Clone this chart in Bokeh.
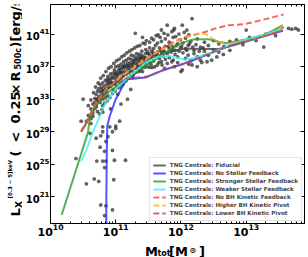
import math
from bokeh.plotting import figure
from bokeh.layouts import row, column
from bokeh.models import Range1d, FixedTicker, LogAxis, Label, CustomJSTickFormatter
from bokeh.embed import file_html
from bokeh.resources import INLINE

# ---------------- data (log10 values) ----------------
x_ticks = [1e10, 1e11, 1e12, 1e13]
y_ticks = [1e21, 1e25, 1e29, 1e33, 1e37, 1e41]

fid_logm = [10.50, 10.606, 10.727, 10.879, 11.076, 11.333, 11.561, 11.818, 12.061, 12.318, 12.576, 12.773, 12.970, 13.227, 13.424, 13.576]
fid_logl = [29.36, 30.82, 32.64, 34.21, 35.55, 37.0, 38.09, 38.82, 39.24, 39.18, 39.18, 39.55, 40.03, 40.76, 41.24, 41.85]

nostel_logm = [10.853, 10.856, 10.864, 10.871, 10.909, 11.0, 11.106, 11.152, 11.455, 11.712, 12.061, 12.318, 12.576, 12.818, 13.076, 13.333, 13.561]
nostel_logl = [13.6, 20.88, 26.94, 29.73, 30.94, 33.0, 34.58, 35.42, 35.67, 36.52, 37.42, 38.21, 39.06, 39.75, 40.27, 40.88, 41.4]

strong_logm = [10.171, 10.576, 10.60, 10.70, 10.85, 11.08, 11.36, 11.61, 11.82, 12.02, 12.21, 12.42, 12.58, 12.70, 12.88, 13.08, 13.27, 13.42, 13.56]
strong_logl = [18.78, 28.96, 30.58, 32.19, 33.61, 35.06, 36.64, 37.85, 39.06, 39.95, 40.36, 40.36, 40.07, 39.87, 40.15, 40.48, 40.88, 41.48, 42.09]

weak_logm = [10.470, 10.576, 10.652, 10.758, 10.848, 11.0, 11.212, 11.455, 11.636, 11.818, 12.061, 12.273, 12.576, 12.818, 13.076, 13.333, 13.561]
weak_logl = [25.36, 27.30, 29.0, 30.94, 32.64, 34.21, 35.79, 37.48, 38.21, 38.33, 37.85, 38.21, 39.06, 39.91, 40.48, 41.08, 41.69]

nobh_logm = [10.470, 10.576, 10.697, 10.848, 11.061, 11.303, 11.561, 11.818, 12.061, 12.318, 12.515, 12.727, 12.970, 13.227, 13.576]
nobh_logl = [29.0, 30.58, 32.52, 34.09, 35.67, 37.0, 38.45, 39.79, 40.64, 41.12, 41.67, 42.09, 42.21, 42.70, 43.42]

hipiv_logm = [10.470, 10.576, 10.697, 10.848, 11.061, 11.303, 11.561, 11.818, 12.061, 12.273, 12.379, 12.470, 12.576, 12.697, 12.879, 13.076, 13.273, 13.455, 13.576]
hipiv_logl = [29.0, 30.58, 32.52, 34.09, 35.67, 37.0, 38.45, 39.55, 40.64, 41.06, 41.0, 40.52, 40.03, 39.79, 40.03, 40.27, 40.76, 41.36, 42.09]

lopiv_logm = [10.470, 10.576, 10.697, 10.848, 10.985, 11.182, 11.485, 11.712, 12.061, 12.318, 12.576, 12.818, 13.076, 13.333, 13.561]
lopiv_logl = [29.0, 30.58, 32.52, 33.97, 35.06, 35.55, 35.79, 36.52, 37.36, 38.21, 39.06, 39.73, 40.27, 40.88, 41.48]

# individual haloes (logM, logL)
haloes = [
    (10.83, 18.7), (10.85, 19.9), (10.77, 20.0), (10.95, 19.4), (10.55, 22.6), (10.67, 23.2), (10.74, 22.9),
    (10.97, 23.1), (10.39, 25.7), (10.80, 25.4), (10.83, 24.6), (10.85, 25.4), (10.98, 25.5), (11.15, 25.5),
    (10.71, 25.4), (10.83, 26.6), (10.85, 27.8), (10.95, 26.7), (10.76, 27.1), (10.77, 28.5), (10.61, 28.8),
    (10.70, 28.2), (10.88, 28.4), (10.80, 29.6), (10.91, 29.6), (11.00, 29.7), (11.06, 30.3), (10.62, 30.0),
    (10.55, 30.3), (10.95, 29.0), (11.00, 29.4), (10.80, 29.0), (10.50, 33.0), (10.65, 30.9), (10.80, 31.4),
    (10.70, 32.2), (10.47, 30.3),
    (10.58, 31.0), (10.58, 32.2), (10.62, 31.8), (10.62, 30.6), (10.62, 32.9), (10.65, 32.4), (10.65, 31.3),
    (10.68, 33.1), (10.68, 31.9), (10.68, 32.6), (10.70, 33.6), (10.70, 32.1), (10.72, 32.9), (10.72, 34.0),
    (10.72, 31.5), (10.74, 33.3), (10.74, 34.3), (10.76, 33.9), (10.76, 32.6), (10.76, 34.8), (10.78, 33.5),
    (10.78, 34.4), (10.80, 34.1), (10.80, 33.0), (10.80, 35.0), (10.80, 32.2), (10.82, 34.6), (10.82, 33.7),
    (10.84, 34.2), (10.84, 35.3), (10.84, 33.2), (10.86, 34.8), (10.86, 33.9), (10.88, 35.1), (10.88, 34.4),
    (10.88, 35.8), (10.88, 33.4), (10.90, 34.9), (10.90, 35.5), (10.92, 35.3), (10.92, 34.6), (10.92, 36.1),
    (10.94, 35.7), (10.94, 34.9), (10.96, 35.0), (10.96, 36.2), (10.96, 35.6), (10.96, 34.2), (10.98, 35.9),
    (10.98, 36.6), (11.00, 35.4), (11.00, 36.3), (11.00, 34.8), (11.00, 37.0), (11.02, 36.0), (11.02, 35.7),
    (11.04, 36.5), (11.04, 35.2), (11.04, 37.1), (11.06, 36.1), (11.06, 36.8), (11.08, 35.6), (11.08, 36.6),
    (11.08, 37.3), (11.08, 35.0), (11.10, 36.3), (11.10, 37.0), (11.12, 36.8), (11.12, 35.9), (11.12, 37.6),
    (11.14, 36.4), (11.14, 37.2), (11.16, 37.0), (11.16, 36.1), (11.16, 37.8), (11.16, 35.4), (11.18, 36.7),
    (11.18, 37.4), (11.20, 37.1), (11.20, 36.3), (11.20, 38.0), (11.22, 37.5), (11.22, 36.8), (11.24, 36.5),
    (11.24, 37.9), (11.24, 37.2), (11.24, 38.4), (11.26, 37.3), (11.26, 36.9), (11.28, 37.7), (11.28, 36.2),
    (11.28, 38.3), (11.30, 37.4), (11.30, 38.0), (11.32, 36.8), (11.32, 37.9), (11.32, 38.6), (11.34, 37.6),
    (11.34, 38.2), (11.36, 37.1), (11.36, 38.5), (11.36, 37.9), (11.36, 36.4), (11.38, 38.1), (11.38, 37.5),
    (11.40, 38.4), (11.40, 37.0), (11.40, 38.9), (11.43, 37.8), (11.43, 38.2), (11.46, 38.6), (11.46, 37.3),
    (11.46, 39.1), (11.49, 38.0), (11.49, 38.8), (11.52, 37.5), (11.52, 38.4), (11.52, 39.3), (11.52, 36.9),
    (11.55, 38.9), (11.55, 38.1), (11.58, 37.7), (11.58, 39.2), (11.58, 38.5), (11.61, 38.3), (11.61, 39.6),
    (11.64, 37.2), (11.64, 38.8), (11.64, 39.9), (11.67, 38.0), (11.67, 39.3), (11.70, 37.6), (11.70, 38.7),
    (11.70, 40.1), (11.73, 39.0), (11.73, 38.3), (11.76, 37.9), (11.76, 39.5), (11.76, 40.4), (11.79, 38.6),
    (11.79, 37.4), (11.82, 39.2), (11.82, 38.1), (11.82, 40.0), (11.85, 38.8), (11.85, 39.7), (11.88, 37.8),
    (11.88, 39.4), (11.88, 40.6), (11.91, 38.5), (11.91, 39.0), (11.95, 39.8), (11.95, 38.2), (11.95, 37.5),
    (11.99, 39.3), (11.99, 40.3), (12.03, 38.7), (12.03, 39.9), (12.07, 38.0), (12.07, 40.5), (12.07, 39.2),
    (12.11, 39.6), (12.11, 38.4), (12.15, 37.7), (12.15, 40.1), (12.20, 39.0), (12.20, 38.6), (12.25, 40.4),
    (12.25, 38.2), (12.30, 39.4), (12.30, 37.8), (12.36, 38.9), (12.36, 40.0), (12.42, 39.6), (12.42, 38.4),
    (12.50, 40.2), (12.50, 39.1), (12.58, 38.8), (12.58, 39.8), (12.66, 39.5), (12.75, 40.1), (12.75, 39.0),
    (12.85, 40.3), (12.95, 39.7), (13.05, 40.6), (13.15, 40.2), (13.30, 41.0), (13.45, 40.8), (13.70, 41.6),
    (13.80, 41.5),
    (11.62, 40.8), (11.68, 40.6), (11.74, 41.1), (11.80, 40.9), (11.86, 41.3), (11.92, 40.7), (11.97, 41.0),
    (12.05, 41.2), (11.70, 41.5), (11.58, 40.3), (11.52, 40.0), (11.45, 39.8), (11.90, 41.7), (12.12, 40.9),
    (11.75, 36.8), (11.90, 37.0), (12.00, 36.4), (12.12, 37.3), (12.25, 37.0), (12.40, 37.6), (12.55, 38.2),
    (12.65, 38.5),
    (11.79, 42.1), (12.02, 42.1), (12.17, 42.9), (11.89, 41.5), (12.09, 41.5), (11.30, 41.1), (11.41, 40.6),
    (13.27, 39.4), (13.00, 41.5), (13.65, 41.7), (13.76, 41.7),
    (12.32, 37.5), (12.17, 37.2), (12.02, 36.6), (12.47, 37.8), (11.86, 37.6), (11.71, 37.2), (11.56, 36.9),
    (11.41, 36.4), (11.26, 35.7), (11.11, 34.8), (11.23, 34.2), (11.03, 33.6), (11.18, 33.0), (11.08, 32.4),
    (10.92, 31.8),
    (10.66, 33.8), (10.69, 34.5), (10.73, 35.0), (10.77, 35.6), (10.81, 35.9), (10.85, 36.4), (10.89, 36.8),
    (10.93, 37.0), (10.97, 37.4), (11.01, 37.7), (11.05, 37.9), (11.09, 38.2), (11.13, 38.4), (11.17, 38.7),
    (11.21, 38.9), (11.25, 39.1), (11.29, 39.3), (11.33, 39.5), (11.37, 39.6), (11.42, 39.9), (11.47, 40.2),
    (11.55, 40.5), (11.65, 40.9),
    (10.75, 31.2), (10.79, 31.7), (10.83, 32.5), (10.87, 32.8), (10.91, 33.2), (10.95, 33.7), (10.99, 34.0),
    (11.03, 34.4), (11.07, 34.5), (11.11, 35.0), (11.15, 35.2), (11.19, 35.6), (11.23, 35.9), (11.27, 36.0),
    (11.31, 36.3), (11.35, 36.6), (11.39, 36.7), (11.44, 36.9), (11.48, 37.0), (11.54, 37.3), (11.60, 37.0),
    (11.66, 37.5),
    (10.71, 33.0), (10.79, 34.0), (10.87, 35.4), (10.93, 35.0), (11.01, 36.1), (11.07, 36.3), (11.13, 37.0),
    (11.19, 37.1), (11.27, 37.6), (11.33, 37.2), (11.39, 38.0), (11.45, 38.1), (11.50, 38.6), (11.57, 38.7),
    (11.63, 38.5), (11.69, 39.0), (11.75, 38.8), (11.81, 39.5), (11.87, 39.1), (11.93, 39.6), (11.97, 38.9),
    (12.01, 39.5), (12.09, 39.0), (12.13, 39.8), (12.18, 39.4), (12.23, 39.7), (12.28, 38.9), (12.34, 39.3),
]

series = [
    ("TNG Centrals: Fiducial", fid_logm, fid_logl, "#444444", None),
    ("TNG Centrals: No Stellar Feedback", nostel_logm, nostel_logl, "#2b2bff", None),
    ("TNG Centrals: Stronger Stellar Feedback", strong_logm, strong_logl, "#2f9a2f", None),
    ("TNG Centrals: Weaker Stellar Feedback", weak_logm, weak_logl, "#3ff2f2", None),
    ("TNG Centrals: No BH Kinetic Feedback", nobh_logm, nobh_logl, "#ff3b3b", "6 3"),
    ("TNG Centrals: Higher BH Kinetic Pivot", hipiv_logm, hipiv_logl, "#ffae1a", "6 3"),
    ("TNG Centrals: Lower BH Kinetic Pivot", lopiv_logm, lopiv_logl, "#b85050", "6 3"),
]

# ---------------- main figure ----------------
YW = 22      # width of the strip holding the y title
MW = 286     # width of main figure
MH = 238     # height of main figure
XH = 19      # height of the strip holding the x title

p = figure(width=MW, height=MH, x_axis_type="log", y_axis_type="log",
           x_range=Range1d(1e10, 10 ** 13.894), y_range=Range1d(10 ** 17.727, 10 ** 44.636),
           output_backend="svg", toolbar_location=None,
           min_border_left=25, min_border_right=4, min_border_top=4, min_border_bottom=12)
p.grid.visible = False
p.outline_line_color = "black"
p.background_fill_color = "white"

x_minor = [m * 10 ** e for e in range(10, 14) for m in range(2, 10)]
xt = FixedTicker(ticks=x_ticks, minor_ticks=x_minor)
yt = FixedTicker(ticks=y_ticks)

for ax in p.xaxis:
    ax.ticker = xt
    ax.major_label_text_font_size = "11px"
    ax.major_label_standoff = 0
for ax in p.yaxis:
    ax.ticker = yt
    ax.major_label_text_font_size = "10px"
    ax.major_label_standoff = 1
for ax in list(p.xaxis) + list(p.yaxis):
    ax.major_label_text_font_style = "bold"
    ax.major_label_text_font = "DejaVu Sans"
    ax.major_label_text_color = "black"
    ax.major_tick_in = 4
    ax.major_tick_out = 0
    ax.minor_tick_in = 2
    ax.minor_tick_out = 0
    ax.axis_line_color = "black"

blank = CustomJSTickFormatter(code="return ''")
top = LogAxis(ticker=xt, formatter=blank, major_tick_in=4, major_tick_out=0, minor_tick_in=2,
              minor_tick_out=0, major_label_standoff=0, major_label_text_font_size="0px")
right = LogAxis(ticker=yt, formatter=blank, major_tick_in=4, major_tick_out=0, minor_tick_in=2,
                minor_tick_out=0, major_label_standoff=0, major_label_text_font_size="0px")
p.add_layout(top, "above")
p.add_layout(right, "right")

hx = [10 ** m for m, l in haloes]
hy = [10 ** l for m, l in haloes]
p.scatter(hx, hy, size=3.8, fill_color="#2e2e2e", line_color=None, fill_alpha=0.75)

for name, lm, ll, col, dash in series:
    kw = dict(line_width=2, line_alpha=0.8, color=col, legend_label=name)
    if dash:
        kw["line_dash"] = dash
    p.line([10 ** v for v in lm], [10 ** v for v in ll], **kw)

lg = p.legend[0]
lg.location = "bottom_right"
lg.margin = 2
lg.label_text_font = "DejaVu Sans"
lg.label_text_font_style = "bold"
lg.label_text_font_size = "5.6px"
lg.label_height = 8
lg.glyph_height = 8
lg.glyph_width = 13
lg.label_standoff = 4
lg.spacing = 0
lg.padding = 3
lg.border_line_color = "#cccccc"
lg.border_line_width = 1
lg.background_fill_alpha = 0.85


def strip(w, h):
    f = figure(width=w, height=h, x_range=Range1d(0, 1), y_range=Range1d(0, 1),
               x_axis_type=None, y_axis_type=None, output_backend="svg", toolbar_location=None,
               min_border_left=0, min_border_right=0, min_border_top=0, min_border_bottom=0)
    f.grid.visible = False
    f.outline_line_color = None
    return f


# ---------------- y title (rotated pieces), page coordinates ----------------
yf = strip(YW, MH)


def ylab(text, page_x, page_y, size):
    yf.add_layout(Label(x=page_x, y=MH - page_y, x_units="screen", y_units="screen",
                        text=text, angle=math.pi / 2, text_font="DejaVu Sans", text_font_style="bold",
                        text_font_size=size, text_align="left", text_baseline="alphabetic",
                        text_color="black"))


ylab("L", 15, 231, "13px")
ylab("X", 18, 222.5, "9px")
ylab("[0.3 \u2212 5]keV", 9, 213, "5.5px")
ylab("(", 15, 171, "13px")
ylab("<", 15, 157, "13px")
ylab("0.25", 15, 138, "13px")
ylab("\u00d7", 15, 109, "13px")
ylab("R", 15, 96, "13px")
ylab("500c", 18, 84, "8px")
ylab(")[erg/s]", 15, 62, "13px")

# ---------------- x title pieces, page coordinates ----------------
xf = strip(YW + MW, XH)


def xlab(text, page_x, page_y, size):
    xf.add_layout(Label(x=page_x, y=MH + XH - page_y, x_units="screen", y_units="screen",
                        text=text, text_font="DejaVu Sans", text_font_style="bold",
                        text_font_size=size, text_align="left", text_baseline="alphabetic",
                        text_color="black"))


xlab("M", 144.5, 250.5, "13px")
xlab("tot", 157, 253, "8px")
xlab("[M", 168.5, 250.5, "13px")
xlab("\u2299", 189, 249.5, "8px")
xlab("]", 198.5, 250.5, "13px")

layout = column(row(yf, p, spacing=0), xf, spacing=0)
open("out.html", "w").write(file_html(layout, INLINE))
